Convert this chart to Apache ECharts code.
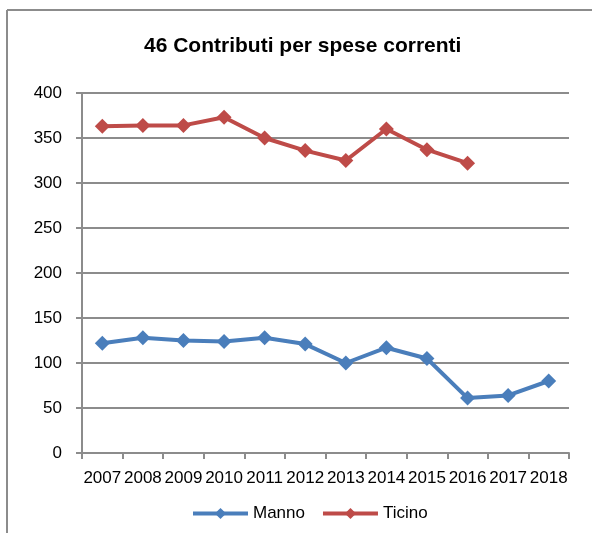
<!DOCTYPE html>
<html>
<head>
<meta charset="utf-8">
<script src="https://cdn.jsdelivr.net/npm/echarts@6/dist/echarts.min.js"></script>
<style>
  html, body { margin: 0; padding: 0; background: #fff; }
  #chart { width: 592px; height: 533px; }
</style>
</head>
<body>
<div id="chart"></div>
<script>
// Contributi per spese correnti, Manno vs Ticino
const years = ['2007', '2008', '2009', '2010', '2011', '2012', '2013', '2014', '2015', '2016', '2017', '2018'];
const manno = [122, 128, 125, 124, 128, 121, 100, 117, 105, 61, 64, 80];
const ticino = [363, 364, 364, 373, 350, 336, 325, 360, 337, 322, null, null];
const yTicks = [0, 50, 100, 150, 200, 250, 300, 350, 400];

const FONT = '"Liberation Sans", Arial, sans-serif';
const BLUE = '#4a7ebb';
const RED = '#be4b48';
const GREY = '#8c8c8c';

const chart = echarts.init(document.getElementById('chart'), null, { renderer: 'canvas' });

chart.setOption({
  animation: false,
  backgroundColor: '#fff',
  title: {
    text: '46 Contributi per spese correnti',
    left: 139,
    top: 31,
    textStyle: { fontFamily: FONT, fontWeight: 'bold', fontSize: 21, color: '#000' }
  },
  graphic: [
    { type: 'line', shape: { x1: 7, y1: 10, x2: 592, y2: 10 }, style: { stroke: GREY, lineWidth: 2 } },
    { type: 'line', shape: { x1: 7, y1: 10, x2: 7, y2: 533 }, style: { stroke: GREY, lineWidth: 2 } }
  ],
  grid: { left: 82, right: 23, top: 93, bottom: 80, containLabel: false },
  legend: {
    top: 500,
    left: 186,
    itemWidth: 55,
    itemHeight: 14,
    itemGap: 16,
    lineStyle: { width: 4 },
    textStyle: { fontFamily: FONT, fontSize: 17, color: '#000' },
    data: ['Manno', 'Ticino']
  },
  xAxis: {
    type: 'category',
    data: years,
    boundaryGap: true,
    axisLine: { lineStyle: { color: GREY, width: 2 } },
    axisTick: { show: true, inside: false, length: 6, lineStyle: { color: GREY, width: 2 } },
    axisLabel: { interval: 0, fontFamily: FONT, fontSize: 17, color: '#000', margin: 17 },
    splitLine: { show: false }
  },
  yAxis: {
    type: 'value',
    min: 0,
    max: 400,
    interval: 50,
    axisLine: { show: true, lineStyle: { color: GREY, width: 2 } },
    axisTick: { show: true, length: 6, lineStyle: { color: GREY, width: 2 } },
    axisLabel: {
      fontFamily: FONT, fontSize: 17, color: '#000', margin: 20,
      formatter: v => (yTicks.includes(v) ? String(v) : '')
    },
    splitLine: { show: true, lineStyle: { color: GREY, width: 2 } }
  },
  series: [
    {
      name: 'Manno',
      type: 'line',
      data: manno,
      symbol: 'diamond',
      symbolSize: 15,
      lineStyle: { color: BLUE, width: 4 },
      itemStyle: { color: BLUE },
      connectNulls: false
    },
    {
      name: 'Ticino',
      type: 'line',
      data: ticino,
      symbol: 'diamond',
      symbolSize: 15,
      lineStyle: { color: RED, width: 4 },
      itemStyle: { color: RED },
      connectNulls: false
    }
  ]
});
</script>
</body>
</html>
